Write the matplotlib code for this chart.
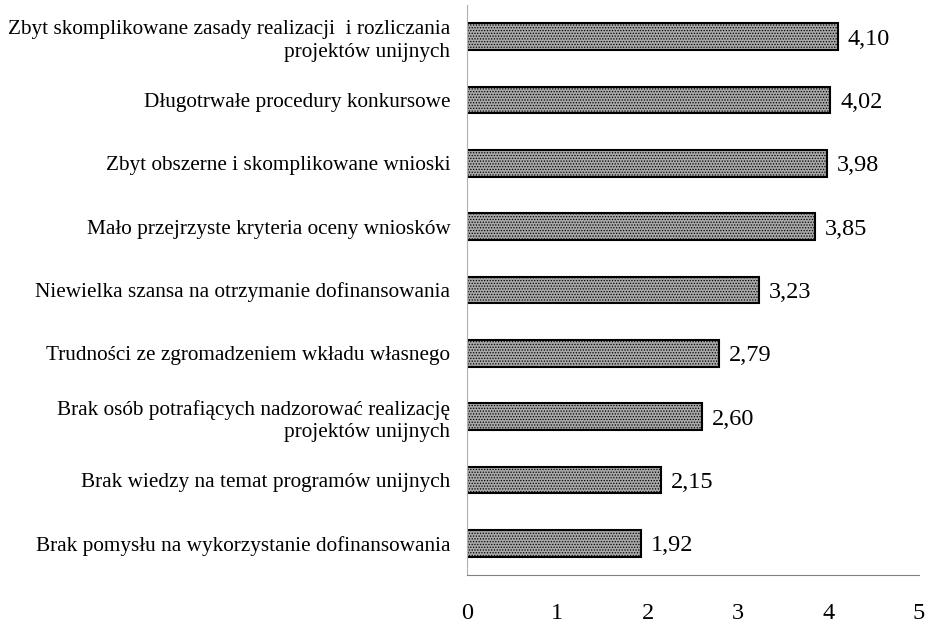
import matplotlib.pyplot as plt

plt.rcParams['font.family'] = ['Liberation Serif', 'DejaVu Serif']
plt.rcParams['hatch.linewidth'] = 0.6

categories = [
    'Zbyt skomplikowane zasady realizacji  i rozliczania\nprojektów unijnych',
    'Długotrwałe procedury konkursowe',
    'Zbyt obszerne i skomplikowane wnioski',
    'Mało przejrzyste kryteria oceny wniosków',
    'Niewielka szansa na otrzymanie dofinansowania',
    'Trudności ze zgromadzeniem wkładu własnego',
    'Brak osób potrafiących nadzorować realizację\nprojektów unijnych',
    'Brak wiedzy na temat programów unijnych',
    'Brak pomysłu na wykorzystanie dofinansowania',
]
values = [4.10, 4.02, 3.98, 3.85, 3.23, 2.79, 2.60, 2.15, 1.92]

fig = plt.figure(figsize=(9.29, 6.25), dpi=100)
ax = fig.add_axes([0.5027, 0.08, 0.4866, 0.912])

pos = list(range(len(values)))[::-1]
ax.barh(pos, values, height=0.42, color='#a8a8a8', edgecolor='black',
        linewidth=1.5, hatch='......')

for p, v in zip(pos, values):
    ax.text(v + 0.11, p, f'{v:.2f}'.replace('.', ','), va='center_baseline',
            ha='left', fontsize=17.5)

ax.set_xlim(0, 5)
ax.set_ylim(-0.5, len(values) - 0.5)
ax.set_yticks(pos)
ax.set_yticklabels(categories, fontsize=15.3, linespacing=1.25)
ax.set_xticks(range(6))
ax.tick_params(axis='y', length=0, pad=12)
ax.tick_params(axis='x', length=0, pad=20, labelsize=17.5)

for side in ['top', 'right']:
    ax.spines[side].set_visible(False)
ax.spines['left'].set_color('#b0b0b0')
ax.spines['bottom'].set_color('#808080')

fig.savefig('out.png', dpi=100)
